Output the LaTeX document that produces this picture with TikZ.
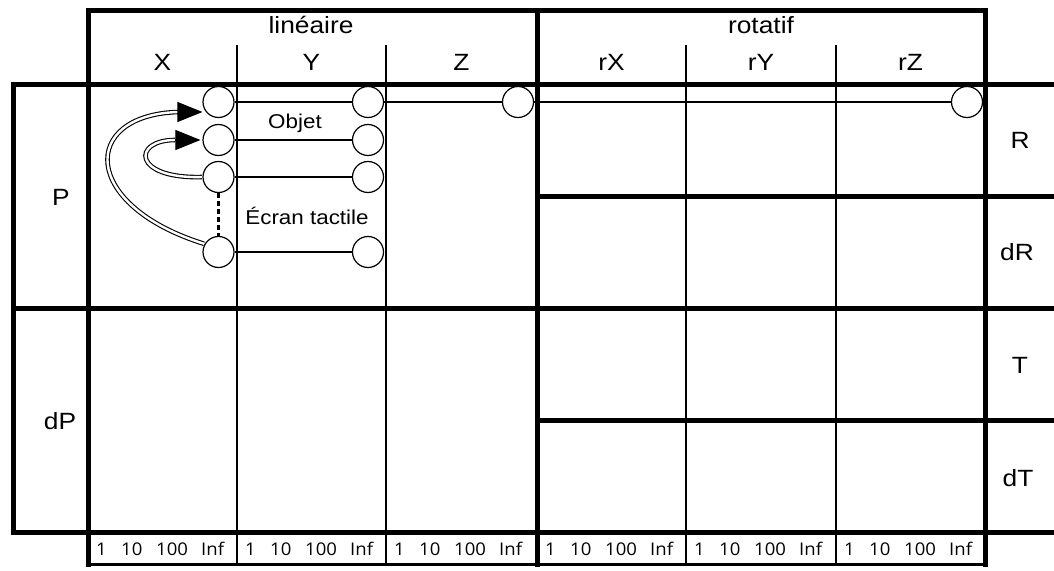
\documentclass[tikz,border=0pt]{standalone}
\usepackage{fontspec}
\setmainfont{Liberation Sans}
\newfontfamily\scalefont{Open Sans}
\usetikzlibrary{arrows.meta}
\newcommand{\hs}[1]{\scalebox{1.12}[1]{#1}}
\newcommand{\sk}[2]{\makebox[#1][l]{\scalebox{1.06}[1]{#2}}}
\begin{document}
\begin{tikzpicture}[x=1pt,y=-1pt,
  thickln/.style={line width=5pt, line cap=rect, line join=miter},
  colln/.style={line width=2.6pt},
  hdr/.style={font=\fontsize{23.5}{28}\selectfont, anchor=base, inner sep=0pt},
  lbl/.style={font=\fontsize{20}{24}\selectfont, anchor=base, inner sep=0pt},
  scl/.style={font=\scalefont\fontsize{17.5}{20}\selectfont, anchor=base west, inner sep=0pt},
  circ/.style={circle, draw, line width=1.2pt, minimum size=31pt, inner sep=0pt},
  link/.style={line width=1.2pt},
  dsh/.style={line width=2.2pt, dash pattern=on 5pt off 3pt},
  dbl/.style={double, double distance=2.4pt, line width=1.1pt},
  tipst/.style={-{Triangle[length=25pt,width=20pt]}, line width=1.1pt}]
\useasboundingbox (0,0) rectangle (1054,570);
% frame
\draw[thickln] (88,564) -- (88,10) -- (985,10) -- (985,564);
\draw[thickln] (537,10) -- (537,564);
\draw[thickln] (1058,84) -- (13,84) -- (13,532) -- (1058,532);
\draw[thickln] (13,308) -- (1058,308);
\draw[thickln] (537,196) -- (1058,196);
\draw[thickln] (537,420) -- (1058,420);
\foreach \c in {237,386,686,836} \draw[colln] (\c,45) -- (\c,565);
\draw[line width=3.2pt] (88,564.5) -- (985,564.5);
% headers
\node[hdr] (lin) at (311,33) {\hs{linéaire}};
\node[hdr] (rot) at (761,33) {\hs{rotatif}};
\node[hdr] (hx) at (162.5,70) {\hs{X}};
\node[hdr] (hy) at (311.5,70) {\hs{Y}};
\node[hdr] (hz) at (461.5,70) {\hs{Z}};
\node[hdr] (hrx) at (611.5,70) {\hs{rX}};
\node[hdr] (hry) at (761,70) {\hs{rY}};
\node[hdr] (hrz) at (910.5,70) {\hs{rZ}};
% row labels
\node[hdr] (rp) at (61,205) {\hs{P}};
\node[hdr] (rdp) at (60,429) {\hs{dP}};
\node[hdr] (rr) at (1020,148) {\hs{R}};
\node[hdr] (rdr) at (1017,260) {\hs{dR}};
\node[hdr] (rt) at (1020,373) {\hs{T}};
\node[hdr] (rdt) at (1018,486) {\hs{dT}};
% scale labels
\foreach \c [count=\i] in {88,237,386,537,686,836}
  \node[scl] (s\i) at (\c+8,555) {\sk{25pt}{1}\sk{35pt}{10}\sk{45pt}{100}\scalebox{1.06}[1]{Inf}};
% circles
\node[circ] (x1) at (218.5,102) {};
\node[circ] (x2) at (218.5,140) {};
\node[circ] (x3) at (218.5,177) {};
\node[circ] (x4) at (218.5,252) {};
\node[circ] (y1) at (368,102) {};
\node[circ] (y2) at (368,140) {};
\node[circ] (y3) at (368,177) {};
\node[circ] (y4) at (368,252) {};
\node[circ] (z1) at (518,102) {};
\node[circ] (rz1) at (967,102) {};
% links
\draw[link] (x1) -- (y1);
\draw[link] (y1) -- (z1);
\draw[link] (z1) -- (rz1);
\draw[link] (x2) -- (y2);
\draw[link] (x3) -- (y3);
\draw[link] (x4) -- (y4);
\draw[dsh] (x3.south) -- (x4.north);
% texts
\node[lbl] (obj) at (295,128) {\hs{Objet}};
\node[lbl] (ecr) at (307,224) {\hs{Écran tactile}};
% curved arrows
\coordinate (ab2) at (175,140);
\coordinate (ab1) at (178,112);
\draw[dbl, shorten <=0.6pt] (x3.west) .. controls (132,179) and (132,140) .. (ab2);
\draw[tipst, shorten >=2pt] (ab2) -- (x2.west);
\draw[dbl, shorten <=0.6pt] (x4.150) .. controls (80,205) and (80,115) .. (ab1);
\draw[tipst] (ab1) -- (ab1 -| x1.west);
\end{tikzpicture}
\end{document}
